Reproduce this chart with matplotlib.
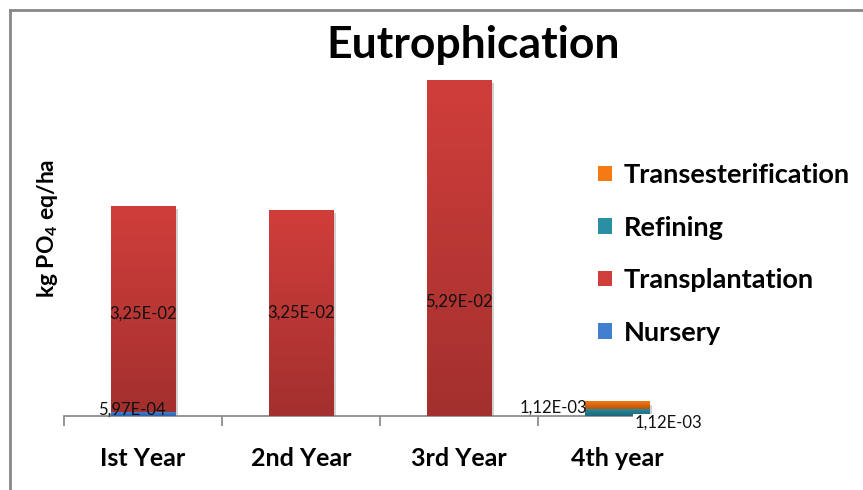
import numpy as np
import matplotlib
matplotlib.use("Agg")
import matplotlib.pyplot as plt
from matplotlib.lines import Line2D
from matplotlib.patches import Patch
import matplotlib.patheffects as pe
from matplotlib.colors import LinearSegmentedColormap

plt.rcParams['font.family'] = ['Lato', 'DejaVu Sans']
plt.rcParams['mathtext.fontset'] = 'custom'
plt.rcParams['mathtext.rm'] = 'Lato'
plt.rcParams['mathtext.bf'] = 'Lato:bold'

# ---- data -------------------------------------------------------------
years = ["Ist Year", "2nd Year", "3rd Year", "4th year"]
stages = ["Nursery", "Transplantation", "Refining", "Transesterification"]
nursery = [5.97e-4, 0.0, 0.0, 0.0]
transplantation = [3.25e-2, 3.25e-2, 5.29e-2, 0.0]
refining = [0.0, 0.0, 0.0, 1.12e-3]
transesterification = [0.0, 0.0, 0.0, 1.12e-3]
series = [nursery, transplantation, refining, transesterification]

# (top colour, bottom colour) gradient for each stage
colours = {
    "Nursery": ("#4180D0", "#2F62A8"),
    "Transplantation": ("#D03E3B", "#A3302E"),
    "Refining": ("#2A8FA3", "#1C6678"),
    "Transesterification": ("#F57A12", "#B8520A"),
}

W, H, DPI = 863, 490, 100
fig = plt.figure(figsize=(W / DPI, H / DPI), dpi=DPI)

# plot area
x0, x1 = 64, 696
y_base = 416
ymax = 0.06
px_per_unit = 6338
y_top = y_base - ymax * px_per_unit
ax = fig.add_axes([x0 / W, 1 - y_base / H, (x1 - x0) / W, (y_base - y_top) / H])
ax.set_xlim(-0.5, len(years) - 0.5)
ax.set_ylim(0, ymax)
for s in ["top", "right", "left"]:
    ax.spines[s].set_visible(False)
ax.spines["bottom"].set_color("#8C8C8C")
ax.spines["bottom"].set_linewidth(1.3)
ax.set_yticks([])
ax.set_xticks(np.arange(-0.5, len(years), 1.0))
ax.set_xticklabels([])
ax.tick_params(axis="x", length=7, width=1.3, color="#8C8C8C", direction="out")
ax.set_xticks(np.arange(len(years)), minor=True)
ax.set_xticklabels(years, minor=True, fontsize=18, fontweight="bold")
ax.tick_params(axis="x", which="minor", length=0, pad=22)

x = np.arange(len(years))
bw = 0.41
bottom = np.zeros(len(years))
shadow = [pe.SimplePatchShadow(offset=(2, -2), shadow_rgbFace="#9a9a9a", alpha=0.45, rho=1.0), pe.Normal()]
for name, vals in zip(stages, series):
    vals = np.asarray(vals)
    top_c, bot_c = colours[name]
    cmap = LinearSegmentedColormap.from_list(name, [bot_c, top_c])
    bars = ax.bar(x, vals, bw, bottom=bottom, color=top_c, edgecolor="none", zorder=2)
    for b in bars:
        if b.get_height() <= 0:
            continue
        b.set_path_effects(shadow)
        bx, by = b.get_x(), b.get_y()
        grad = np.linspace(0, 1, 256).reshape(-1, 1)
        ax.imshow(grad, cmap=cmap, origin="lower", aspect="auto",
                  extent=(bx, bx + b.get_width(), by, by + b.get_height()),
                  zorder=3, interpolation="bicubic")
    bottom = bottom + vals
ax.set_xlim(-0.5, len(years) - 0.5)
ax.set_ylim(0, ymax)


def fmt(v):
    return f"{v:.2E}".replace(".", ",")


label_kw = dict(fontsize=12, color="#111111", ha="center", va="center", zorder=5,
                textcoords="offset pixels")
# transplantation value labels
tp_pix = [317, 313, 302]
for i, v in enumerate(transplantation):
    if v > 0:
        ax.annotate(fmt(v), (x[i], nursery[i]), xytext=(0, y_base - tp_pix[i]), **label_kw)
# nursery label
ax.annotate(fmt(nursery[0]), (x[0], 0), xytext=(-11, 6), **label_kw)
# 4th-year labels
ax.annotate(fmt(transesterification[3]), (x[3], refining[3] + transesterification[3]),
            xytext=(-64, -6), **label_kw)
ax.annotate(fmt(refining[3]), (x[3], 0), xytext=(51, -7),
            bbox=dict(boxstyle="square,pad=0.05", fc="white", ec="none"), **label_kw)

# title and axis label
fig.text(473 / W, 1 - 45 / H, "Eutrophication", fontsize=32, fontweight="bold",
         ha="center", va="center")
fig.text(47 / W, 1 - 228 / H, r"kg PO$_{\mathbf{4}}$ eq/ha", fontsize=16.5, fontweight="bold",
         rotation=90, ha="center", va="center")

# legend (top entry = last stage in the stack)
handles = [Patch(facecolor=colours[n][0], edgecolor="none") for n in stages[::-1]]
leg = fig.legend(handles, stages[::-1], loc="center left",
                 bbox_to_anchor=(598 / W, 1 - 254 / H), frameon=False,
                 borderaxespad=0, borderpad=0,
                 prop=dict(size=19.5, weight="bold"), labelspacing=1.05,
                 handlelength=0.5, handleheight=0.5, handletextpad=0.45)

# chart frame
fig.add_artist(Line2D([10 / W, 10 / W], [0, 1 - 10 / H], color="#878787", lw=2))
fig.add_artist(Line2D([10 / W, 1], [1 - 10 / H, 1 - 10 / H], color="#878787", lw=2))

fig.savefig("out.png", dpi=DPI, facecolor="white")
